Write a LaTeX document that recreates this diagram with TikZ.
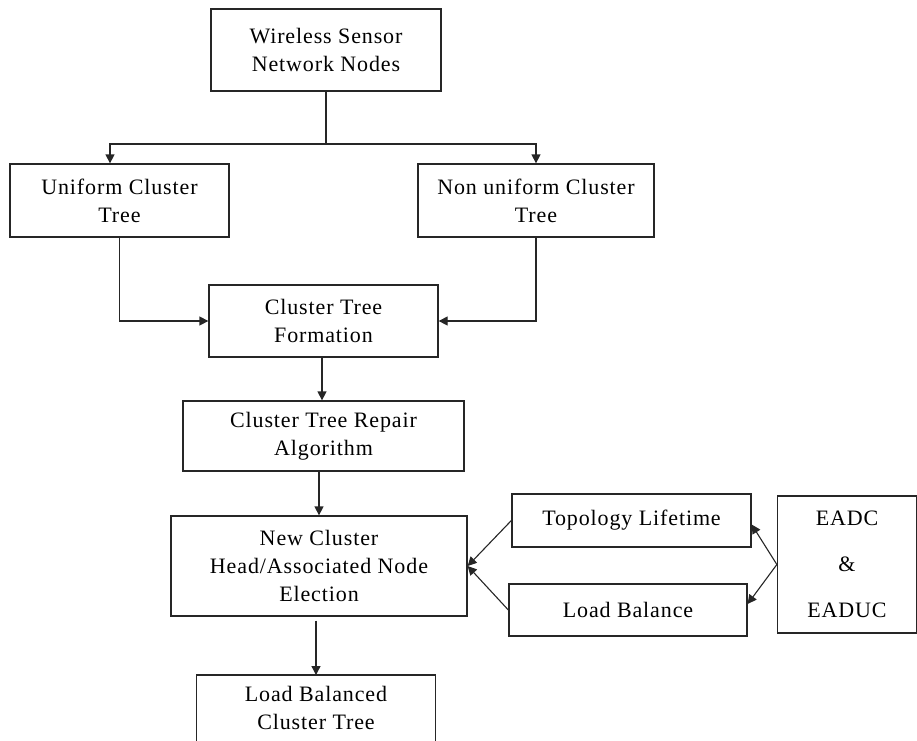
\documentclass[tikz,border=0pt]{standalone}
\usepackage{fontspec}
\setmainfont{Liberation Serif}[LetterSpace=4]
\usetikzlibrary{arrows.meta}
\begin{document}
\begin{tikzpicture}[x=1pt,y=-1pt,
  box/.style={draw=black!85, line width=1.3pt, align=center, inner sep=0pt,
    font=\fontsize{22}{28}\selectfont},
  arr/.style={draw=black!85, line width=1.3pt, -{Triangle[length=9pt,width=9pt]}},
  ln/.style={draw=black!85, line width=1.3pt}]
\useasboundingbox (0,0) rectangle (917,740);
\clip (0,0) rectangle (917,740);
\node[box, minimum width=230, minimum height=82] (wsn) at (326,50) {Wireless Sensor\\Network Nodes};
\node[box, minimum width=219, minimum height=73] (uni) at (119.5,200.5) {Uniform Cluster\\Tree};
\node[box, minimum width=236, minimum height=73] (non) at (536,200.5) {Non uniform Cluster\\Tree};
\node[box, minimum width=229, minimum height=72] (form) at (323.5,321) {Cluster Tree\\Formation};
\node[box, minimum width=281, minimum height=70] (rep) at (323.5,436) {Cluster Tree Repair\\Algorithm};
\node[box, minimum width=296, minimum height=100] (newc) at (319,566) {New Cluster\\Head/Associated Node\\Election};
\node[box, minimum width=239, minimum height=53] (topo) at (631.5,520.5) {Topology Lifetime};
\node[box, minimum width=238, minimum height=52] (lb) at (628,610) {Load Balance};
\node[box, minimum width=139, minimum height=137, font=\fontsize{22}{46}\selectfont] (eadc) at (847,564.5) {EADC\\\&\\EADUC};
\node[box, draw=none, minimum width=238, minimum height=64, anchor=north] (lbct) at (316,675) {Load Balanced\\Cluster Tree};
\draw[ln] ([yshift=-90pt]lbct.north west) -- (lbct.north west) -- (lbct.north east) -- ([yshift=-90pt]lbct.north east);
\coordinate (split) at (326,144);
\draw[ln] (wsn.south) -- (split);
\draw[arr] (split) -| ([xshift=-9.5pt]uni.north);
\draw[arr] (split) -| (non.north);
\draw[arr] (uni.south) |- (form.west);
\draw[arr] (non.south) |- (form.east);
\draw[arr] ([xshift=-1.5pt]form.south) -- ([xshift=-1.5pt]rep.north);
\draw[arr] (rep.south -| newc.north) -- (newc.north);
\draw[arr, shorten <=4pt] (newc.south -| lbct.north) -- (lbct.north);
\draw[arr, line width=1.1pt] (topo.west) -- (newc.east);
\draw[arr, line width=1.1pt] (lb.west) -- (newc.east);
\draw[arr, line width=1.1pt] (eadc.west) -- ([yshift=-4pt]topo.east);
\draw[arr, line width=1.1pt] (eadc.west) -- ([yshift=6pt]lb.east);
\end{tikzpicture}
\end{document}
